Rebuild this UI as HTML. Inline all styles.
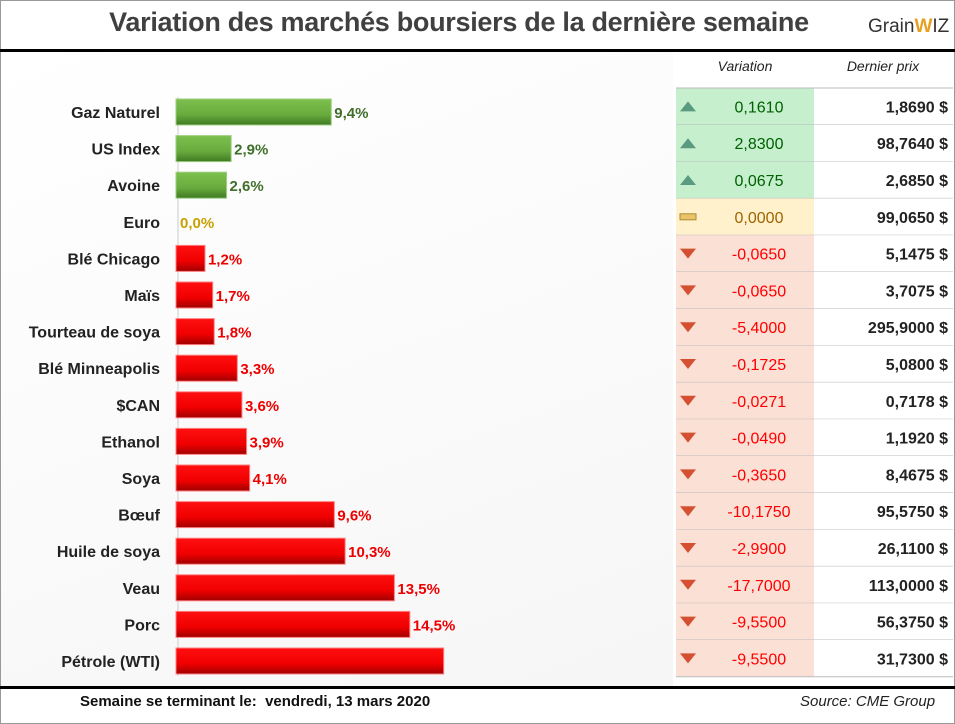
<!DOCTYPE html>
<html><head><meta charset="utf-8"><style>
body{margin:0;width:955px;height:724px;overflow:hidden;background:#fff;font-family:"Liberation Sans",sans-serif}
#frame{position:absolute;left:0;top:0;width:953px;height:722px;border:1px solid #999;background:#fff}
#title{position:absolute;left:0;top:7px;width:918px;text-align:center;font-size:27px;font-weight:bold;color:#404040;letter-spacing:-0.3px}
#logo{position:absolute;left:868px;top:16px;font-size:19px;color:#333}
#topline{position:absolute;left:0;top:49px;width:955px;height:3px;background:#000}
#botline{position:absolute;left:0;top:686px;width:955px;height:3px;background:#000}
#chartbg{position:absolute;left:1px;top:52px;width:672px;height:634px;background:linear-gradient(160deg,#fff 0%,#f6f6f6 100%)}
.hdr{position:absolute;top:58px;font-size:14px;font-style:italic;color:#222;text-align:center;width:138px}
#footer{position:absolute;left:80px;top:693px;font-size:15px;font-weight:bold;color:#111}
#source{position:absolute;left:800px;top:693px;font-size:15px;font-style:italic;color:#222}
</style></head><body>
<div id="frame"></div>
<div id="chartbg"></div>
<div id="title">Variation des marchés boursiers de la dernière semaine</div>
<div id="logo">Grain<span style="color:#e8a020;font-weight:bold">W</span>IZ</div>
<div id="topline"></div>
<div id="botline"></div>
<div class="hdr" style="left:676px">Variation</div>
<div class="hdr" style="left:814px">Dernier prix</div>
<svg id="svg" width="955" height="724" style="position:absolute;left:0;top:0">
<defs>
<linearGradient id="gG" x1="0" y1="0" x2="0" y2="1"><stop offset="0" stop-color="#7cc04e"/><stop offset="0.6" stop-color="#6aab3e"/><stop offset="1" stop-color="#3f7a22"/></linearGradient>
<linearGradient id="gR" x1="0" y1="0" x2="0" y2="1"><stop offset="0" stop-color="#ff1010"/><stop offset="0.6" stop-color="#f00000"/><stop offset="1" stop-color="#a00000"/></linearGradient>
</defs>
</svg>
<div id="footer">Semaine se terminant le:&nbsp; vendredi, 13 mars 2020</div>
<div id="source">Source: CME Group</div>
<script>
const categories=["Gaz Naturel","US Index","Avoine","Euro","Blé Chicago","Maïs","Tourteau de soya","Blé Minneapolis","$CAN","Ethanol","Soya","Bœuf","Huile de soya","Veau","Porc","Pétrole (WTI)"];
const pctValues=[9.4,2.9,2.6,0.0,-1.2,-1.7,-1.8,-3.3,-3.6,-3.9,-4.1,-9.6,-10.3,-13.5,-14.5,-16.7];
const pctLabels=["9,4%","2,9%","2,6%","0,0%","1,2%","1,7%","1,8%","3,3%","3,6%","3,9%","4,1%","9,6%","10,3%","13,5%","14,5%",""];
const variations=["0,1610","2,8300","0,0675","0,0000","-0,0650","-0,0650","-5,4000","-0,1725","-0,0271","-0,0490","-0,3650","-10,1750","-2,9900","-17,7000","-9,5500","-9,5500"];
const prices=["1,8690 $","98,7640 $","2,6850 $","99,0650 $","5,1475 $","3,7075 $","295,9000 $","5,0800 $","0,7178 $","1,1920 $","8,4675 $","95,5750 $","26,1100 $","113,0000 $","56,3750 $","31,7300 $"];
const svg=document.getElementById('svg');
const NS='http://www.w3.org/2000/svg';
const barStart=176, scaleOrigin=186.5, pxPer=15.4, rowTop=88, rowH=36.8, barH=26, barTop=112, barStep=36.6;
const xs=v=>scaleOrigin+Math.abs(v)*pxPer;
const yc=i=>rowTop+rowH*i+rowH/2;
const yb=i=>barTop+barStep*i;
function mk(tag,attrs){const e=document.createElementNS(NS,tag);for(const k in attrs)e.setAttribute(k,attrs[k]);svg.appendChild(e);return e;}
const ax=mk('line',{x1:178,x2:178,y1:97,y2:676,stroke:'#ccc','stroke-width':1});


categories.forEach((c,i)=>{
  const v=pctValues[i], y=yc(i), by=yb(i);
  const col=v>0?'#3f6f2a':(v<0?'#ee0000':'#c8a000');
  const lab=mk('text',{x:160,y:by+6,'text-anchor':'end','font-size':16,'font-weight':'bold',fill:'#222','font-family':'Liberation Sans'});
  lab.textContent=c;
  
  
  if(v!==0){
    const b=mk('rect',{x:barStart,y:by-barH/2,width:xs(v)-barStart,height:barH,fill:v>0?'url(#gG)':'url(#gR)',stroke:v>0?'#9ccf80':'#ff8080','stroke-width':1});
    
    
  }
  const t=mk('text',{x:(v===0?barStart+4:xs(v)+3),y:by+6,'font-size':15,'font-weight':'bold',fill:col,'font-family':'Liberation Sans'});
  t.textContent=pctLabels[i];
  
  
  const top=rowTop+rowH*i;
  const bg=v>0?'#c6efce':(v<0?'#fbe0d6':'#fff1cc');
  const cell=mk('rect',{x:676,y:top,width:138,height:rowH,fill:bg});
  
  
  const pc=mk('rect',{x:814,y:top,width:139,height:rowH,fill:'#fff'});
  
  
  const ln=mk('line',{x1:676,x2:953,y1:top+rowH,y2:top+rowH,stroke:'#bbb','stroke-width':1});
  
  
  let ic;
  if(v>0) ic=mk('polygon',{points:`680,${y+5} 696,${y+5} 688,${y-5}`,fill:'#5a9a80'});
  else if(v<0) ic=mk('polygon',{points:`680,${y-5} 696,${y-5} 688,${y+5}`,fill:'#d45030'});
  else ic=mk('rect',{x:680,y:y-3,width:16,height:6,fill:'#e8c46a',stroke:'#b08a30'});
  
  
  const vt=mk('text',{x:759,y:y+6,'text-anchor':'middle','font-size':16,fill:v>0?'#006100':(v<0?'#ff0000':'#9c6500'),'font-family':'Liberation Sans'});
  vt.textContent=variations[i];
  
  
  const pt=mk('text',{x:948,y:y+6,'text-anchor':'end','font-size':16,'font-weight':'bold',fill:'#222','font-family':'Liberation Sans'});
  pt.textContent=prices[i];
  
  
});
const tl=mk('line',{x1:676,x2:953,y1:rowTop,y2:rowTop,stroke:'#bbb','stroke-width':1});


</script>
</body></html>
